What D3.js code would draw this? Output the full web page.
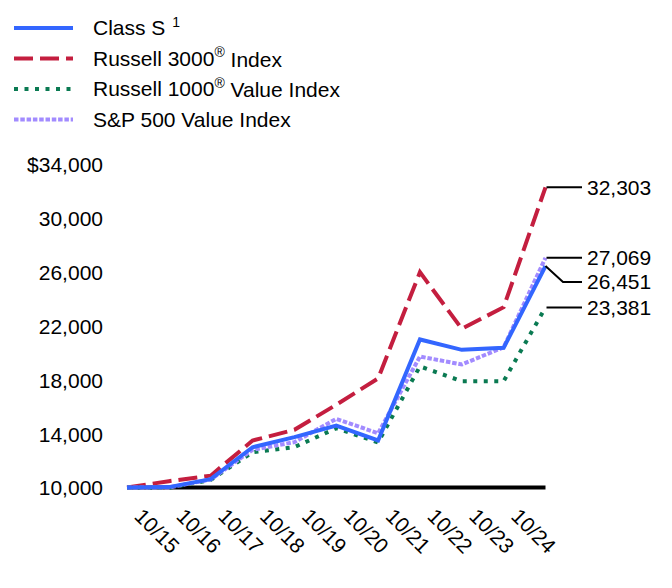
<!DOCTYPE html>
<html><head><meta charset="utf-8">
<script src="https://cdn.jsdelivr.net/npm/d3@7"></script>
<style>body{margin:0;background:#fff}svg{display:block;font-family:"Liberation Sans",Arial,sans-serif}</style>
</head><body><svg id="c" width="672" height="588"></svg>
<script>
const periods = ["10/14","10/15","10/16","10/17","10/18","10/19","10/20","10/21","10/22","10/23","10/24"];
const tickLabels = ["10/15","10/16","10/17","10/18","10/19","10/20","10/21","10/22","10/23","10/24"];
const yTicks = [10000,14000,18000,22000,26000,30000,34000];
const classS = [10000,10030,10620,12990,13740,14600,13500,21000,20230,20380,26451];
const russell3000 = [10000,10470,10880,13490,14290,16150,18100,26000,21790,23400,32303];
const russell1000V = [10000,9980,10560,12620,13000,14400,13350,19000,17900,17900,23381];
const sp500V = [10000,10000,10600,12800,13370,15100,14030,19730,19140,20420,27069];

const series = [
  {name:"Russell 3000", sup:"®", after:" Index", values:russell3000, color:"#c41e3f", dash:"19,7"},
  {name:"Russell 1000", sup:"®", after:" Value Index", values:russell1000V, color:"#0a7a52", dash:"4,6.5"},
  {name:"S&P 500 Value Index", sup:"", after:"", values:sp500V, color:"#a28bff", dash:"4.5,1.8"},
  {name:"Class S", sup:"1", after:"", values:classS, color:"#3366ff", dash:null}
];
const legendOrder = [3,0,1,2];
const FS = 21;

const svg = d3.select("#c");
const x = d3.scalePoint().domain(periods).range([127,545.5]);
const y = d3.scaleLinear().domain([10000,34000]).range([487.5,164.5]);
const fmt = d3.format(",");

// y axis labels
const yAxis = d3.axisLeft(y).tickValues(yTicks).tickSize(0).tickPadding(0)
  .tickFormat(d => (d===34000?"$":"")+fmt(d));
const gy = svg.append("g").attr("transform","translate(103,0)").call(yAxis);
gy.select(".domain").remove();
gy.selectAll("text").attr("font-size",FS).attr("fill","#000").attr("font-family","Liberation Sans, Arial, sans-serif").attr("dy","0.35em");

// baseline
svg.append("line").attr("x1",x(periods[0])).attr("x2",x(periods[periods.length-1]))
  .attr("y1",y(10000)).attr("y2",y(10000)).attr("stroke","#000").attr("stroke-width",4);

// x labels
svg.append("g").selectAll("text").data(tickLabels).join("text")
  .attr("transform",(d,i)=>`translate(${x(periods[i])+6.3},517.5) rotate(45)`)
  .attr("font-size",FS).attr("fill","#000").text(d=>d);

// lines
const line = d3.line().x((d,i)=>x(periods[i])).y(d=>y(d));
series.forEach(s=>{
  svg.append("path").datum(s.values).attr("d",line).attr("fill","none")
    .attr("stroke",s.color).attr("stroke-width",4)
    .attr("stroke-dasharray",s.dash).attr("stroke-linejoin","miter");
});

// end labels
const xe = x(periods[periods.length-1]);
const endLabels = [
  {v:32303, ty:y(32303)},
  {v:27069, ty:y(27069)},
  {v:26451, ty:y(26451)+16},
  {v:23381, ty:y(23381)}
];
endLabels.forEach(l=>{
  const py = y(l.v);
  const pts = l.ty===py ? [[xe+1,py],[582,py]] : [[xe,py],[563,l.ty],[582,l.ty]];
  svg.append("path").attr("d",d3.line()(pts)).attr("fill","none").attr("stroke","#000").attr("stroke-width",2);
  svg.append("text").attr("x",587).attr("y",l.ty).attr("dy","0.35em").attr("font-size",FS).text(fmt(l.v));
});

// legend
legendOrder.forEach((si,k)=>{
  const s = series[si];
  const ly = 28 + k*30.5;
  svg.append("line").attr("x1",14).attr("x2",73).attr("y1",ly).attr("y2",ly)
    .attr("stroke",s.color).attr("stroke-width",4).attr("stroke-dasharray",s.dash);
  const t = svg.append("text").attr("x",93).attr("y",ly).attr("dy","0.35em").attr("font-size",FS);
  t.append("tspan").text(s.name);
  if (s.sup) t.append("tspan").attr("font-size",14).attr("dy","-0.6em").attr("dx", s.after ? 0 : 7).text(s.sup);
  if (s.after) t.append("tspan").attr("dy","0.45em").text(s.after);
});
</script></body></html>
